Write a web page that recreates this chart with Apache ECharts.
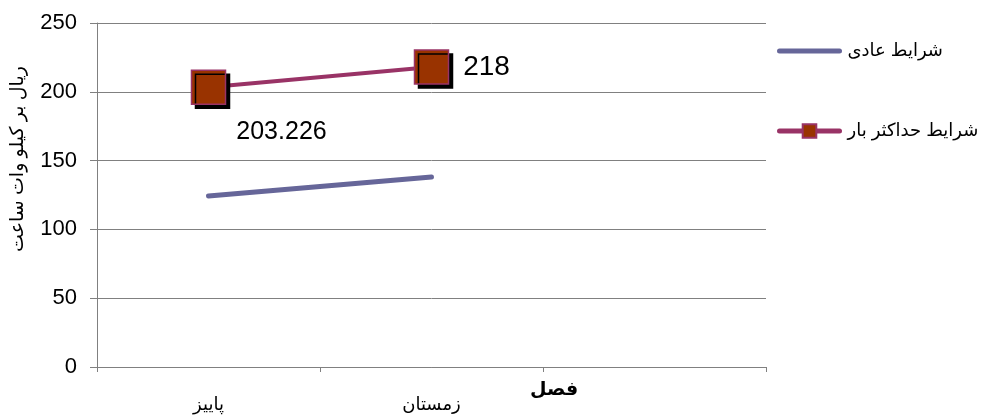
<!DOCTYPE html>
<html><head><meta charset="utf-8">
<script src="https://cdn.jsdelivr.net/npm/echarts@6/dist/echarts.min.js"></script>
<style>html,body{margin:0;padding:0;background:#fff}#c{width:990px;height:418px}</style>
</head><body><div id="c"></div>
<script>
var categories = ['پاییز', 'زمستان', ''];
var normalValues = [124.3, 138.1];
var peakValues = [203.226, 218];
var yTicks = {min: 0, max: 250, interval: 50};
var seriesNames = ['شرایط عادی', 'شرایط حداکثر بار'];
var yTitle = 'ریال بر کیلو وات ساعت';
var xTitle = 'فصل';

var font = 'Arial, "Liberation Sans", "DejaVu Sans", sans-serif';
var chart = echarts.init(document.getElementById('c'));
var peakLabelOffsets = [[73, 45], [55, 0]];
var peakLabelSizes = [25, 28];
chart.setOption({
  animation: false,
  grid: {left: 97, right: 224, top: 23, bottom: 51},
  legend: {
    orient: 'vertical', left: 772, top: 37, itemGap: 62,
    itemWidth: 60, itemHeight: 17,
    textStyle: {fontSize: 18, color: '#000', fontFamily: font, padding: [0, 0, 0, 3]},
    data: [
      {name: seriesNames[0], itemStyle: {opacity: 0}, lineStyle: {width: 5, cap: 'round', color: '#666699'}},
      {name: seriesNames[1], lineStyle: {width: 5, cap: 'round', color: '#993366'}}
    ]
  },
  xAxis: {
    type: 'category', data: categories, boundaryGap: true,
    axisLine: {lineStyle: {color: '#808080', width: 1}},
    axisTick: {show: true, length: 5, lineStyle: {color: '#808080'}},
    axisLabel: {fontSize: 18, color: '#000', margin: 29, fontFamily: font}
  },
  yAxis: {
    type: 'value', min: yTicks.min, max: yTicks.max, interval: yTicks.interval,
    axisLine: {show: true, lineStyle: {color: '#808080', width: 1}},
    axisTick: {show: true, length: 7, lineStyle: {color: '#808080'}},
    splitLine: {lineStyle: {color: '#808080', width: 1}},
    axisLabel: {fontSize: 22, color: '#000', margin: 20, fontFamily: font}
  },
  graphic: [
    {type: 'text', left: 530, top: 380, style: {text: xTitle, fill: '#000', font: 'bold 19px ' + font}},
    {type: 'text', x: 8, y: 252, rotation: Math.PI / 2, style: {text: yTitle, fill: '#000', font: '19px ' + font, textAlign: 'left', textVerticalAlign: 'top'}}
  ],
  series: [
    {
      name: seriesNames[0], type: 'line', data: normalValues,
      symbol: 'none', lineStyle: {color: '#666699', width: 5, cap: 'round'},
      itemStyle: {color: '#666699'}
    },
    {
      name: seriesNames[1], type: 'line',
      data: peakValues.map(function (v, i) {
        return {value: v, label: {offset: peakLabelOffsets[i], fontSize: peakLabelSizes[i]}};
      }),
      symbol: 'rect', symbolSize: 34,
      lineStyle: {color: '#993366', width: 4},
      itemStyle: {color: '#993300', borderColor: '#993366', borderWidth: 1.5,
        shadowColor: '#000', shadowBlur: 0, shadowOffsetX: 4, shadowOffsetY: 4},
      label: {show: true, position: 'inside', fontSize: 25, color: '#000', fontFamily: font,
        formatter: function (p) { return String(p.value); }}
    }
  ]
});
</script></body></html>
